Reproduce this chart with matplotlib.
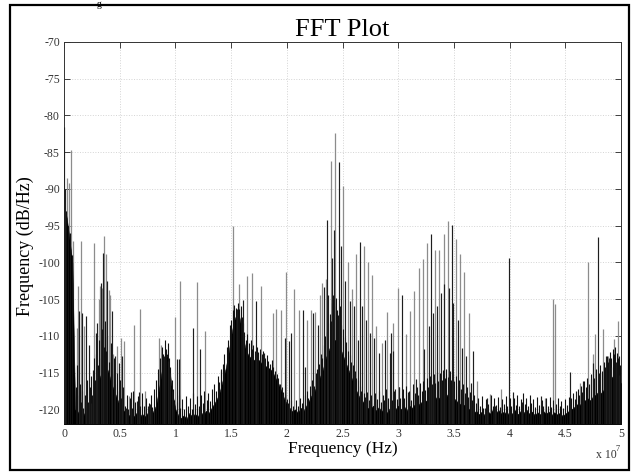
import matplotlib
matplotlib.use("Agg")
import matplotlib.pyplot as plt
from matplotlib.patches import Rectangle
import numpy as np

# ---------------- data (frequency in units of 1e7 Hz, level in dB/Hz) ----------------
SCALE = 1e7

x_ticks = [0, 0.5, 1, 1.5, 2, 2.5, 3, 3.5, 4, 4.5, 5]
x_tick_labels = ["0", "0.5", "1", "1.5", "2", "2.5", "3", "3.5", "4", "4.5", "5"]
y_ticks = [-70, -75, -80, -85, -90, -95, -100, -105, -110, -115, -120]
y_tick_labels = ["-70", "-75", "-80", "-85", "-90", "-95", "-100", "-105", "-110", "-115", "-120"]

# dense noise-floor envelope
env_f = [0.000, 0.025, 0.050, 0.075, 0.100, 0.125, 0.150, 0.175, 0.200, 0.225,
         0.250, 0.275, 0.300, 0.325, 0.350, 0.375, 0.400, 0.425, 0.450, 0.475,
         0.500, 0.525, 0.550, 0.575, 0.600, 0.625, 0.650, 0.675, 0.700, 0.725,
         0.750, 0.775, 0.800, 0.825, 0.850, 0.875, 0.900, 0.925, 0.950, 0.975,
         1.000, 1.025, 1.050, 1.075, 1.100, 1.125, 1.150, 1.175, 1.200, 1.225,
         1.250, 1.275, 1.300, 1.325, 1.350, 1.375, 1.400, 1.425, 1.450, 1.475,
         1.500, 1.525, 1.550, 1.575, 1.600, 1.625, 1.650, 1.675, 1.700, 1.725,
         1.750, 1.775, 1.800, 1.825, 1.850, 1.875, 1.900, 1.925, 1.950, 1.975,
         2.000, 2.025, 2.050, 2.075, 2.100, 2.125, 2.150, 2.175, 2.200, 2.225,
         2.250, 2.275, 2.300, 2.325, 2.350, 2.375, 2.400, 2.425, 2.450, 2.475,
         2.500, 2.525, 2.550, 2.575, 2.600, 2.625, 2.650, 2.675, 2.700, 2.725,
         2.750, 2.775, 2.800, 2.825, 2.850, 2.875, 2.900, 2.925, 2.950, 2.975,
         3.000, 3.025, 3.050, 3.075, 3.100, 3.125, 3.150, 3.175, 3.200, 3.225,
         3.250, 3.275, 3.300, 3.325, 3.350, 3.375, 3.400, 3.425, 3.450, 3.475,
         3.500, 3.525, 3.550, 3.575, 3.600, 3.625, 3.650, 3.675, 3.700, 3.725,
         3.750, 3.775, 3.800, 3.825, 3.850, 3.875, 3.900, 3.925, 3.950, 3.975,
         4.000, 4.025, 4.050, 4.075, 4.100, 4.125, 4.150, 4.175, 4.200, 4.225,
         4.250, 4.275, 4.300, 4.325, 4.350, 4.375, 4.400, 4.425, 4.450, 4.475,
         4.500, 4.525, 4.550, 4.575, 4.600, 4.625, 4.650, 4.675, 4.700, 4.725,
         4.750, 4.775, 4.800, 4.825, 4.850, 4.875, 4.900, 4.925, 4.950, 4.975,
         5.000]
env_db = [-92.0, -94.0, -97.0, -100.0, -120.0, -120.5, -119.5, -120.8, -120.0, -119.5,
          -119.0, -118.0, -116.5, -115.5, -114.5, -114.0, -115.0, -116.5, -117.5, -118.5,
          -119.5, -120.5, -120.0, -121.0, -120.5, -121.0, -120.5, -121.2, -120.6, -121.0,
          -120.5, -121.0, -120.3, -119.5, -117.5, -115.0, -113.0, -112.5, -115.0, -118.0,
          -120.0, -120.8, -121.2, -120.8, -121.3, -120.5, -121.0, -120.6, -121.0, -120.3,
          -120.8, -120.2, -120.5, -119.8, -119.2, -118.5, -117.5, -116.0, -114.5, -112.5,
          -110.0, -108.0, -107.0, -107.5, -109.5, -111.5, -112.5, -113.0, -113.2, -113.5,
          -113.3, -113.8, -114.0, -114.3, -114.5, -115.0, -115.8, -116.5, -117.5, -118.5,
          -119.3, -119.8, -120.3, -120.0, -120.5, -119.8, -120.2, -119.5, -118.8, -118.0,
          -117.5, -116.5, -115.5, -114.5, -113.0, -112.0, -111.0, -110.5, -110.8, -111.5,
          -112.5, -113.5, -114.5, -115.5, -116.5, -117.5, -118.3, -118.8, -119.3, -119.8,
          -120.0, -119.5, -120.2, -119.7, -120.3, -119.8, -120.5, -119.8, -120.3, -120.0,
          -119.5, -120.0, -119.5, -120.2, -119.5, -119.8, -119.3, -119.6, -119.0, -119.4,
          -118.8, -119.2, -118.5, -118.8, -118.2, -118.6, -118.0, -118.4, -117.8, -118.3,
          -118.5, -118.9, -119.2, -119.6, -119.3, -119.8, -120.2, -120.5, -120.2, -120.7,
          -120.3, -120.8, -120.2, -120.6, -120.0, -120.5, -120.1, -120.6, -120.3, -120.8,
          -120.3, -120.6, -120.1, -120.7, -120.2, -120.5, -120.0, -120.6, -120.3, -120.8,
          -120.4, -120.7, -120.2, -120.6, -120.3, -120.8, -120.4, -120.7, -120.5, -120.9,
          -120.6, -120.3, -120.0, -119.8, -119.3, -119.5, -119.0, -118.8, -118.5, -118.8,
          -118.2, -118.0, -117.5, -117.8, -117.2, -116.8, -116.0, -115.5, -115.0, -115.8,
          -116.5]

# short noise lines ("grass") sitting on the floor
grass_f = [0.020, 0.035, 0.058, 0.072,
           0.105, 0.112, 0.120, 0.132, 0.142, 0.155, 0.165, 0.172, 0.190, 0.205,
           0.215, 0.230, 0.245, 0.255, 0.265, 0.275, 0.290, 0.305, 0.318, 0.330,
           0.345, 0.356, 0.368, 0.379, 0.390, 0.405, 0.420, 0.435, 0.448, 0.462,
           0.478, 0.490, 0.500, 0.515, 0.530, 0.545, 0.565, 0.575, 0.590, 0.610,
           0.620, 0.640, 0.660, 0.685, 0.700, 0.715, 0.735, 0.760, 0.780, 0.790,
           0.810, 0.830, 0.845, 0.860, 0.880, 0.890, 0.905, 0.915, 0.930, 0.940,
           0.955, 0.965, 0.980, 0.990,
           1.010, 1.030, 1.045, 1.060, 1.080, 1.095, 1.110, 1.130, 1.145, 1.160,
           1.180, 1.190, 1.210, 1.230, 1.245, 1.260, 1.280, 1.295, 1.310, 1.330,
           1.345, 1.360, 1.380, 1.395, 1.410, 1.430, 1.440, 1.460, 1.470, 1.490,
           1.500, 1.515, 1.530, 1.545, 1.560, 1.570, 1.585, 1.595, 1.610, 1.620,
           1.635, 1.645, 1.660, 1.675, 1.690, 1.700, 1.715, 1.730, 1.745, 1.760,
           1.775, 1.790, 1.805, 1.820, 1.835, 1.850, 1.865, 1.880, 1.895, 1.910,
           1.925, 1.940, 1.955, 1.970, 1.985, 2.000, 2.015, 2.040, 2.060, 2.085,
           2.100, 2.120, 2.140, 2.160, 2.180, 2.190, 2.210, 2.230, 2.245, 2.260,
           2.275, 2.290, 2.305, 2.320, 2.335, 2.345, 2.360, 2.370, 2.385, 2.395,
           2.405, 2.415, 2.425, 2.440, 2.450, 2.460, 2.475, 2.490, 2.505, 2.520,
           2.535, 2.550, 2.565, 2.580, 2.595, 2.610, 2.625, 2.640, 2.655, 2.670,
           2.690, 2.705, 2.720, 2.740, 2.760, 2.780, 2.790, 2.810, 2.830, 2.845,
           2.860, 2.875, 2.890, 2.910, 2.935, 2.945, 2.965, 2.985,
           3.005, 3.020, 3.040, 3.055, 3.070, 3.085, 3.100, 3.115, 3.130, 3.150,
           3.165, 3.180, 3.195, 3.210, 3.225, 3.240, 3.260, 3.270, 3.285, 3.300,
           3.320, 3.330, 3.345, 3.360, 3.375, 3.390, 3.400, 3.420, 3.430, 3.450,
           3.465, 3.475, 3.490, 3.505, 3.520, 3.535, 3.550, 3.565, 3.580, 3.600,
           3.615, 3.630, 3.645, 3.660, 3.680, 3.695,
           3.720, 3.735, 3.750, 3.765, 3.790, 3.810, 3.830, 3.850, 3.860, 3.880,
           3.895, 3.910, 3.935, 3.950, 3.965, 3.980, 4.005, 4.015, 4.040, 4.055,
           4.070, 4.085, 4.100, 4.120, 4.135, 4.150, 4.165, 4.180, 4.195, 4.210,
           4.230, 4.245, 4.260, 4.290, 4.300, 4.330, 4.345, 4.360, 4.375, 4.390,
           4.420, 4.435, 4.450, 4.465, 4.480, 4.500, 4.515, 4.530,
           4.555, 4.570, 4.585, 4.610, 4.620, 4.640, 4.650, 4.670, 4.685, 4.695,
           4.715, 4.735, 4.760, 4.780, 4.800, 4.810, 4.825, 4.845, 4.855, 4.870,
           4.885, 4.900, 4.910, 4.925, 4.940, 4.950, 4.960, 4.970, 4.985, 4.995]
grass_db = [-93.0, -95.0, -96.0, -99.0,
            -117.0, -119.5, -114.0, -118.0, -116.5, -119.0, -117.5, -119.8, -118.0, -116.0,
            -119.0, -117.0, -115.5, -118.0, -113.0, -116.0, -112.5, -114.0, -110.5, -113.0,
            -109.0, -111.5, -108.0, -112.0, -110.0, -113.5, -111.0, -115.0, -113.0, -116.5,
            -115.0, -117.5, -116.0, -118.5, -117.0, -119.5, -118.0, -120.0, -118.5, -119.8,
            -117.5, -119.0, -118.2, -119.5, -117.8, -119.6, -118.5, -119.2, -118.0, -119.7,
            -117.2, -116.0, -114.5, -113.0, -111.5, -112.5, -110.5, -111.8, -111.0, -113.0,
            -114.2, -116.0, -117.2, -118.8,
            -119.0, -118.0, -119.8, -118.6, -120.0, -118.2, -119.5, -118.5, -120.0, -117.8,
            -119.3, -118.2, -119.6, -118.0, -119.2, -117.5, -118.8, -117.8, -118.9, -117.2,
            -116.5, -117.5, -115.5, -116.3, -114.5, -113.8, -112.5, -111.5, -110.5, -108.5,
            -107.8, -106.5, -105.8, -106.2, -105.5, -106.4, -106.0, -107.5, -108.2, -109.5,
            -110.5, -109.8, -111.0, -110.6, -111.8, -111.2, -112.0, -111.5, -112.2, -111.8,
            -112.5, -112.0, -113.0, -112.6, -113.4, -113.8, -113.3, -114.3, -114.8, -115.2,
            -115.8, -116.5, -116.9, -117.6, -118.0, -118.6, -119.2, -118.7, -119.6, -118.8,
            -119.5, -118.5, -119.2, -118.0, -117.5, -118.4, -116.8, -116.0, -116.8, -115.0,
            -114.5, -113.8, -112.5, -113.0, -111.2, -110.0, -109.5, -108.2, -107.0, -108.0,
            -105.5, -104.5, -106.0, -104.8, -106.5, -107.2, -106.0, -108.5, -109.0, -110.2,
            -110.8, -112.0, -112.6, -113.5, -114.0, -114.8, -115.7, -116.0, -116.8, -117.5,
            -117.8, -118.3, -117.6, -118.8, -118.0, -119.2, -117.8, -118.6, -117.5, -119.0,
            -118.0, -118.7, -117.2, -118.5, -117.7, -118.8, -117.5, -118.6,
            -117.0, -118.5, -117.2, -118.4, -116.8, -118.0, -117.5, -118.7, -116.6, -117.8,
            -116.9, -118.1, -116.4, -117.5, -116.2, -117.4, -115.8, -117.0, -115.5, -116.6,
            -115.2, -116.4, -114.9, -116.2, -115.0, -116.0, -114.6, -115.8, -114.5, -115.6,
            -114.8, -116.0, -115.2, -116.2, -115.5, -116.8, -116.0, -117.3, -116.5, -117.8,
            -117.0, -118.3, -117.6, -118.8, -118.0, -119.2,
            -118.5, -119.5, -118.2, -119.8, -118.6, -119.3, -118.1, -119.6, -118.5, -119.4,
            -118.3, -119.7, -118.6, -119.3, -118.2, -119.5, -118.5, -119.6, -118.4, -119.4,
            -118.1, -119.5, -118.6, -117.8, -119.3, -118.4, -119.6, -118.0, -119.2, -118.6,
            -119.7, -118.3, -119.4, -118.7, -119.6, -118.5, -119.5, -118.3, -119.7, -118.8,
            -119.3, -118.4, -119.6, -118.9, -119.8, -118.6, -119.4, -118.3,
            -118.5, -117.8, -118.6, -117.2, -118.0, -116.8, -117.6, -116.2, -117.0, -115.8,
            -116.5, -115.2, -115.8, -114.5, -115.0, -114.0, -114.8, -113.5, -114.2, -112.8,
            -113.6, -112.2, -113.0, -111.8, -112.5, -111.5, -112.3, -113.0, -112.8, -114.0]

# light (grey) spectral lines
light_f = [0.027, 0.045, 0.066, 0.081, 0.117, 0.126, 0.150, 0.183, 0.269, 0.311,
           0.326, 0.341, 0.362, 0.374, 0.401, 0.416, 0.440, 0.473, 0.509, 0.539,
           0.581, 0.626, 0.680, 0.725, 0.850, 0.874, 0.919, 0.994, 1.039, 1.197,
           1.269, 1.413, 1.521, 1.575, 1.646, 1.685, 1.766, 1.874, 1.906, 1.945,
           1.996, 2.065, 2.110, 2.184, 2.214, 2.253, 2.298, 2.319, 2.352, 2.394,
           2.433, 2.508, 2.546, 2.582, 2.618, 2.696, 2.732, 2.768, 2.801, 2.852,
           2.902, 2.954, 2.996, 3.070, 3.107, 3.142, 3.184, 3.220, 3.256, 3.334,
           3.370, 3.409, 3.445, 3.522, 3.558, 3.594, 3.633, 3.711, 3.822, 3.920,
           4.315, 4.393, 4.408, 4.632, 4.707, 4.750, 4.770, 4.839, 4.880, 4.935,
           4.973]
light_db = [-88.5, -89.2, -84.7, -97.1, -108.9, -103.2, -97.1, -108.7, -97.3, -105.0,
            -103.2, -103.5, -96.4, -98.9, -103.7, -104.4, -112.5, -111.4, -110.3, -110.7,
            -118.2, -108.5, -106.3, -117.5, -110.3, -111.2, -112.1, -107.5, -102.6, -102.7,
            -109.4, -114.8, -95.1, -102.9, -101.9, -101.5, -103.2, -106.9, -106.3, -106.5,
            -101.3, -103.6, -106.5, -107.8, -106.5, -106.7, -104.5, -102.8, -102.3, -86.2,
            -82.4, -89.6, -100.0, -103.6, -98.9, -97.8, -100.0, -101.7, -108.7, -111.0,
            -106.8, -108.2, -103.5, -109.7, -106.6, -103.9, -100.7, -99.6, -97.4, -98.3,
            -98.3, -96.2, -94.3, -96.8, -98.8, -101.3, -106.9, -116.1, -117.9, -117.3,
            -118.4, -105.0, -105.6, -116.4, -99.9, -112.5, -109.8, -109.1, -112.8, -110.4,
            -108.0]

# dark (black) spectral lines
dark_f = [0.003, 0.010, 0.135, 0.159, 0.198, 0.222, 0.240, 0.260, 0.284, 0.299,
          0.335, 0.350, 0.383, 0.428, 0.455, 0.491, 0.524, 0.557, 0.605, 0.656,
          0.671, 0.754, 0.775, 0.808, 0.898, 0.934, 0.949, 0.973, 1.015, 1.033,
          1.158, 1.221, 1.554, 1.607, 1.724, 1.799, 1.984, 2.020, 2.035, 2.145,
          2.165, 2.232, 2.283, 2.334, 2.361, 2.373, 2.409, 2.421, 2.469, 2.487,
          2.523, 2.564, 2.600, 2.636, 2.657, 2.678, 2.714, 2.747, 2.783, 2.831,
          2.882, 2.924, 2.932, 2.956, 2.972, 3.011, 3.035, 3.089, 3.163, 3.235,
          3.274, 3.295, 3.313, 3.349, 3.388, 3.415, 3.457, 3.483, 3.495, 3.537,
          3.576, 3.612, 3.651, 3.672, 3.783, 3.801, 3.870, 3.995, 4.030, 4.110,
          4.280, 4.542, 4.600, 4.658, 4.728, 4.745, 4.794, 4.815, 4.863, 4.893,
          4.914, 4.955, 4.982]
dark_db = [-81.6, -90.0, -106.6, -106.9, -107.3, -111.2, -119.1, -114.6, -109.6, -108.2,
           -102.8, -98.7, -102.6, -106.6, -112.7, -113.7, -112.7, -119.8, -117.7, -118.9,
           -117.7, -119.5, -119.3, -119.8, -112.7, -113.4, -115.0, -117.5, -113.2, -113.2,
           -108.9, -111.8, -106.4, -105.1, -105.3, -112.3, -110.3, -110.7, -109.6, -106.5,
           -114.3, -106.9, -108.5, -103.3, -94.2, -104.4, -99.4, -95.6, -86.4, -97.8,
           -102.6, -105.3, -106.0, -110.6, -97.2, -106.0, -107.8, -109.6, -110.3, -112.3,
           -110.5, -112.3, -109.6, -112.1, -117.3, -117.0, -104.4, -117.7, -115.9, -111.8,
           -108.7, -96.2, -106.9, -106.0, -104.2, -102.9, -103.5, -94.95, -105.5, -107.8,
           -111.6, -112.8, -116.4, -112.1, -119.8, -118.5, -119.5, -99.4, -117.7, -119.0,
           -118.2, -114.9, -117.5, -116.2, -115.9, -113.7, -96.6, -115.0, -112.8, -113.0,
           -114.2, -113.5, -115.3]

Y_MIN, Y_MAX = -122, -70

# ---------------- figure ----------------
plt.rcParams["font.family"] = ["Liberation Serif", "DejaVu Serif"]
fig = plt.figure(figsize=(6.34, 4.74), dpi=100)
ax = fig.add_axes([64 / 634, 1 - 424 / 474, (621 - 64) / 634, (424 - 42) / 474])

ax.grid(True, color="#d4d4d4", linestyle=":", linewidth=0.7)
ax.set_axisbelow(True)

ax.vlines(np.array(light_f) * SCALE, Y_MIN, light_db, colors="#8c8c8c", linewidth=0.9, zorder=2)
ax.fill_between(np.array(env_f) * SCALE, Y_MIN, env_db, color="black", linewidth=0.4, zorder=3)
ax.vlines(np.array(grass_f) * SCALE, Y_MIN, grass_db, colors="#111111", linewidth=0.8, zorder=3)
ax.vlines(np.array(dark_f) * SCALE, Y_MIN, dark_db, colors="#1e1e1e", linewidth=0.85, zorder=4)

ax.set_xlim(0, 5 * SCALE)
ax.set_ylim(Y_MIN, Y_MAX)
ax.set_xticks(np.array(x_ticks) * SCALE)
ax.set_xticklabels(x_tick_labels)
ax.set_yticks(y_ticks)
ax.set_yticklabels(y_tick_labels)
ax.tick_params(direction="in", top=True, right=True, length=4, width=0.6,
               labelsize=8.5, pad=3, colors="#222222", labelcolor="#333333")
for s in ax.spines.values():
    s.set_linewidth(0.7)
    s.set_color("#333333")

ax.set_title("FFT Plot", fontsize=19, pad=4)
ax.set_xlabel("Frequency (Hz)", fontsize=12.5, va="center")
ax.xaxis.set_label_coords(0.5, -(449 - 424) / 382)
ax.set_ylabel("Frequency (dB/Hz)", fontsize=13, va="center")
ax.yaxis.set_label_coords(-(64 - 25) / 557, 0.466)

fig.text(596 / 634, 1 - 458 / 474, "x 10", fontsize=8.5, ha="left", va="baseline", color="#333333")
fig.text(616 / 634, 1 - 451 / 474, "7", fontsize=6, ha="left", va="baseline", color="#333333")

# caption fragment above the frame
fig.text(97 / 634, 1.0, "g", fontsize=7, ha="left", va="top")

fig.patches.append(Rectangle((10 / 634, 1 - 470 / 474), (629 - 10) / 634, (470 - 5) / 474,
                             transform=fig.transFigure, fill=False, edgecolor="black",
                             linewidth=1.6))

fig.savefig("out.png", dpi=100)
